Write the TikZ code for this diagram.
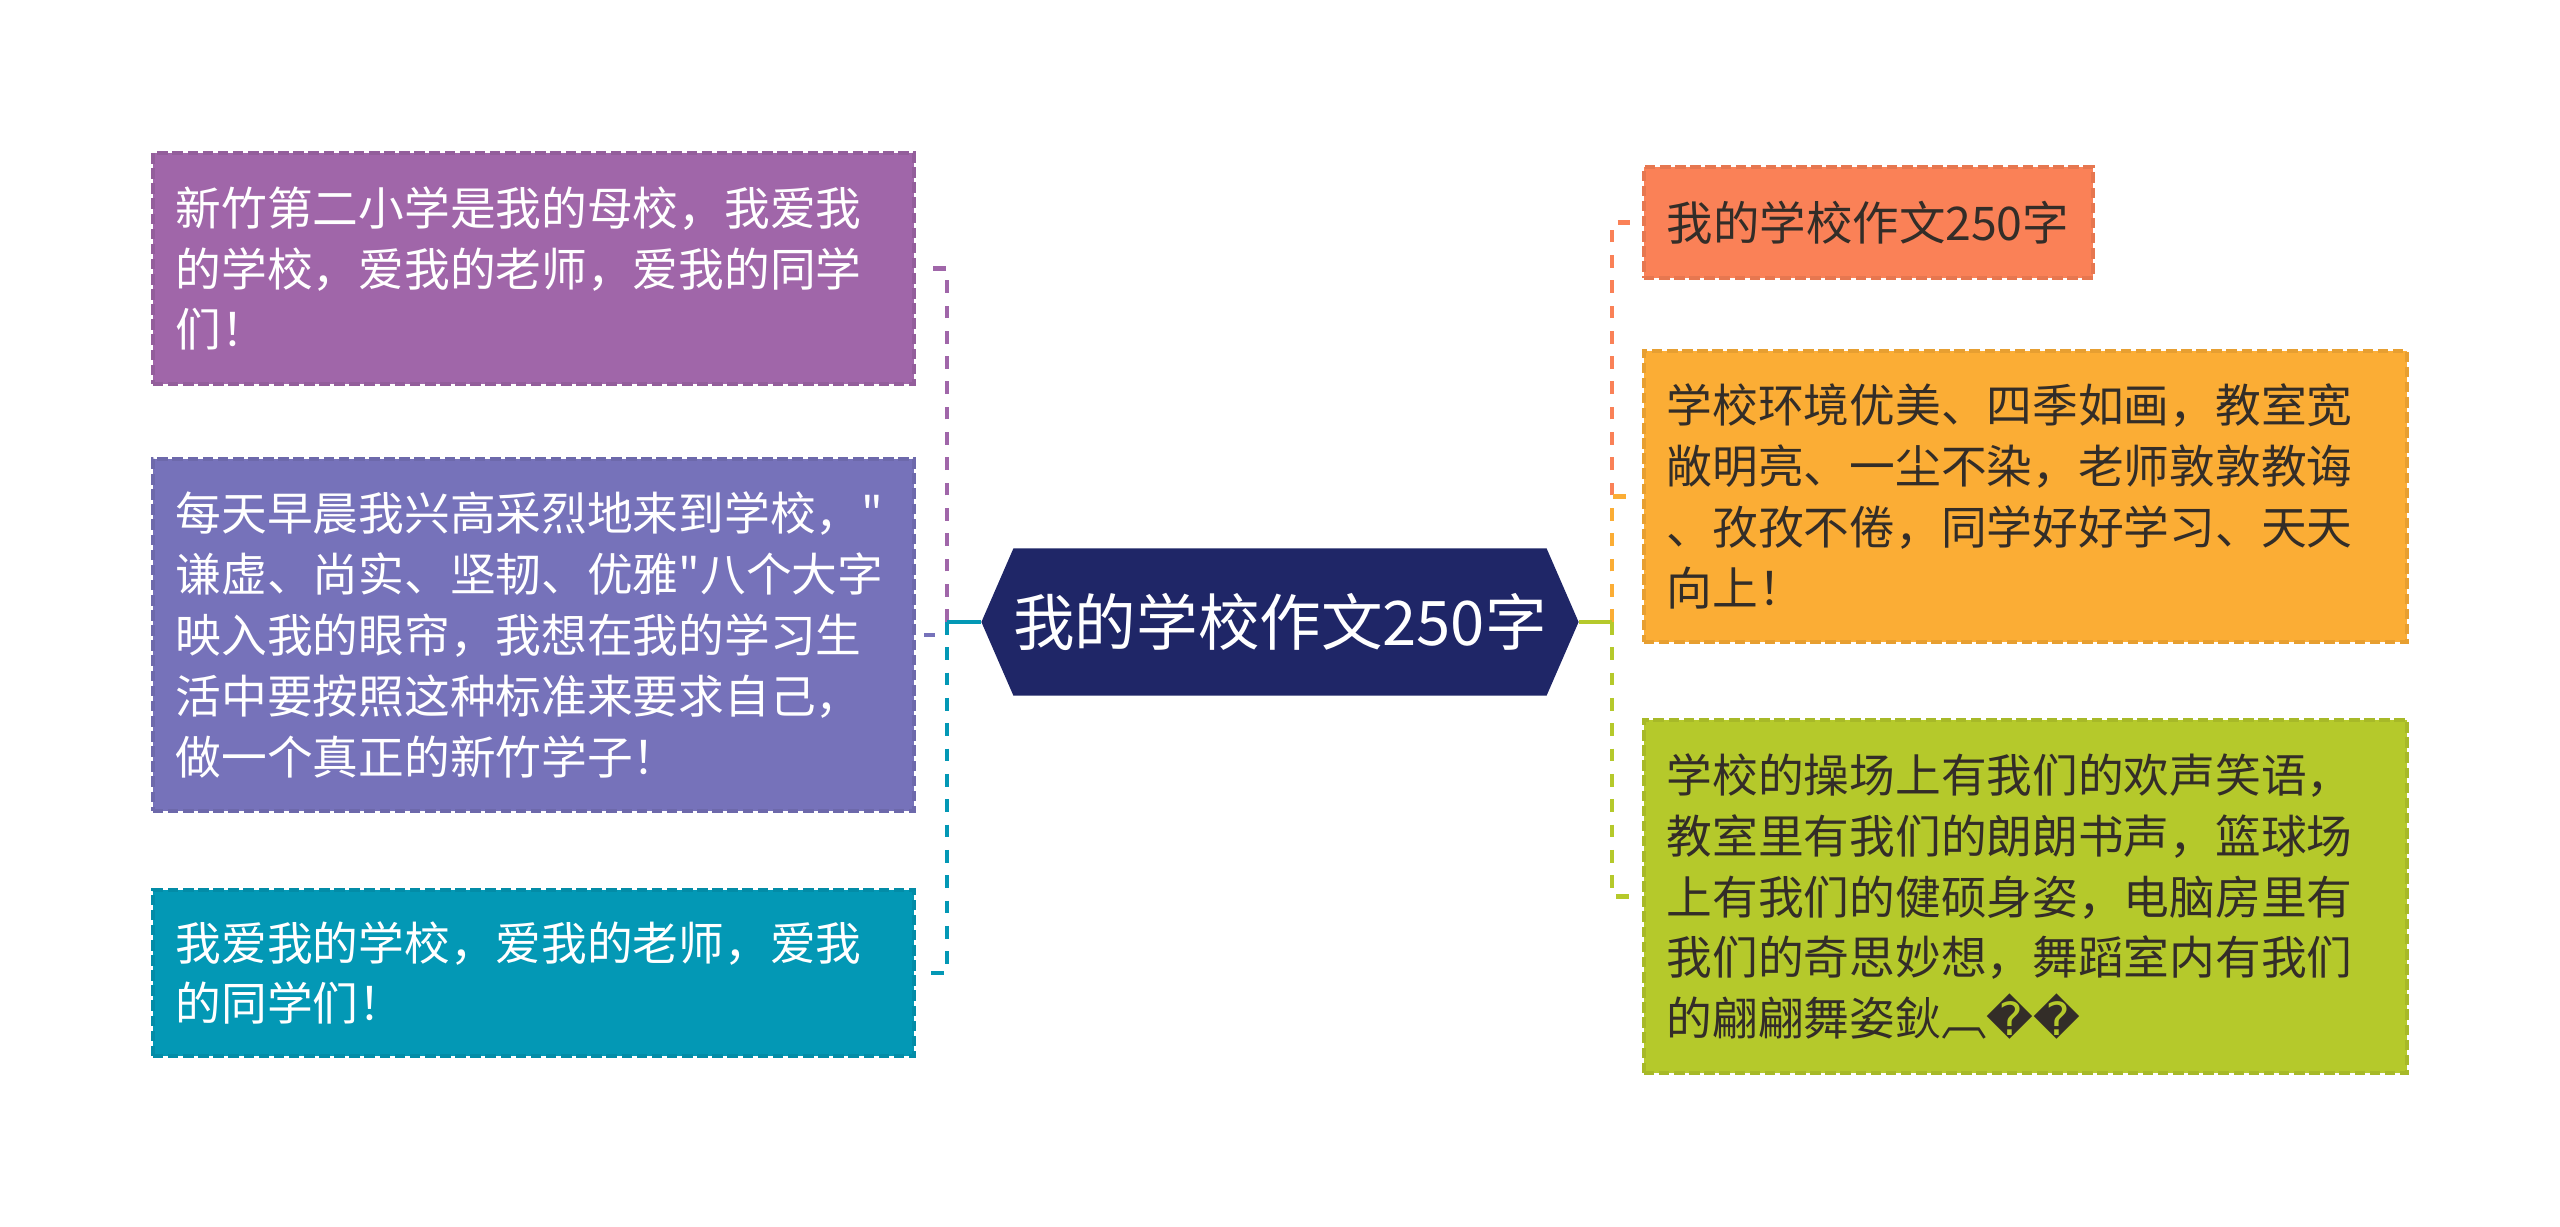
\documentclass[tikz,border=0pt]{standalone}
\usepackage{fontspec}
\setmainfont{Noto Sans CJK SC}[Ligatures=TeXOff]
\newfontfamily\symfont{DejaVu Sans}
\usepackage{tikz}
\usetikzlibrary{shapes.symbols, calc}
\definecolor{rootblue}{RGB}{31, 38, 103}
\definecolor{plum}{RGB}{160, 102, 169}
\definecolor{lavender}{RGB}{118, 114, 186}
\definecolor{sea}{RGB}{3, 152, 181}
\definecolor{salmon}{RGB}{250, 129, 87}
\definecolor{amber}{RGB}{251, 173, 53}
\definecolor{lime}{RGB}{181, 201, 43}
\definecolor{ink}{RGB}{51, 45, 40}

\begin{document}
\begin{tikzpicture}[
  x=0.01cm, y=-0.01cm,
  every node/.style={font=\fontsize{13}{17.3}\selectfont},
  root/.style={signal, signal to=west and east, signal pointer angle=133, fill=rootblue, text=white, minimum width=5.36cm, minimum height=1.47cm, inner sep=0pt, font=\fontsize{17.5}{21}\selectfont},
  leaf/.style={draw=#1!92!black, fill=#1, dash pattern=on 3pt off 1.3pt, line width=1pt, align=left, inner xsep=0.23cm, inner ysep=0pt},
  link/.style={draw=#1, line width=1.3pt, dash pattern=on 3.6pt off 3.6pt, shorten >=0.08cm},
  stub/.style={draw=#1, line width=1.3pt}
]
  \useasboundingbox (0,0) rectangle (2560,1226);

  % 中心
  \node[root] (root) at (1280,622) {我的学校作文250字};

  % 左侧
  \node[leaf=plum, text=white, text width=7.15cm, minimum height=2.31cm] (l1) at (533.5,268.5) {新竹第二小学是我的母校，我爱我\\的学校，爱我的老师，爱我的同学\\们！};
  \node[leaf=lavender, text=white, text width=7.15cm, minimum height=3.52cm] (l2) at (533.5,635) {每天早晨我兴高采烈地来到学校，"\\谦虚、尚实、坚韧、优雅"八个大字\\映入我的眼帘，我想在我的学习生\\活中要按照这种标准来要求自己，\\做一个真正的新竹学子！};
  \node[leaf=sea, text=white, text width=7.15cm, minimum height=1.66cm] (l3) at (533.5,973) {我爱我的学校，爱我的老师，爱我\\的同学们！};

  % 右侧
  \node[leaf=salmon, text=ink, text width=4.03cm, minimum height=1.11cm, font=\fontsize{13.2}{17.3}\selectfont] (r1) at (1868.5,222.5) {我的学校作文250字};
  \node[leaf=amber, text=ink, text width=7.17cm, minimum height=2.91cm] (r2) at (2025.5,496.5) {学校环境优美、四季如画，教室宽\\敞明亮、一尘不染，老师敦敦教诲\\、孜孜不倦，同学好好学习、天天\\向上！};
  \node[leaf=lime, text=ink, text width=7.17cm, minimum height=3.53cm] (r3) at (2025.5,896.5) {学校的操场上有我们的欢声笑语，\\教室里有我们的朗朗书声，篮球场\\上有我们的健硕身姿，电脑房里有\\我们的奇思妙想，舞蹈室内有我们\\的翩翩舞姿鈥︹{\symfont ^^^^fffd^^^^fffd}};

  % 连线
  \coordinate (lj) at (947,622);
  \coordinate (rj) at (1612,622);
  \draw[link=plum] (lj) |- (l1.east);
  \draw[link=lavender] (lj) |- (l2.east);
  \draw[link=sea] (lj) |- (l3.east);
  \draw[stub=sea] (root.west) -- (lj);
  \draw[link=salmon] (rj) |- (r1.west);
  \draw[link=amber] (rj) |- (r2.west);
  \draw[link=lime] (rj) |- (r3.west);
  \draw[stub=lime] (root.east) -- (rj);

\end{tikzpicture}
\end{document}
